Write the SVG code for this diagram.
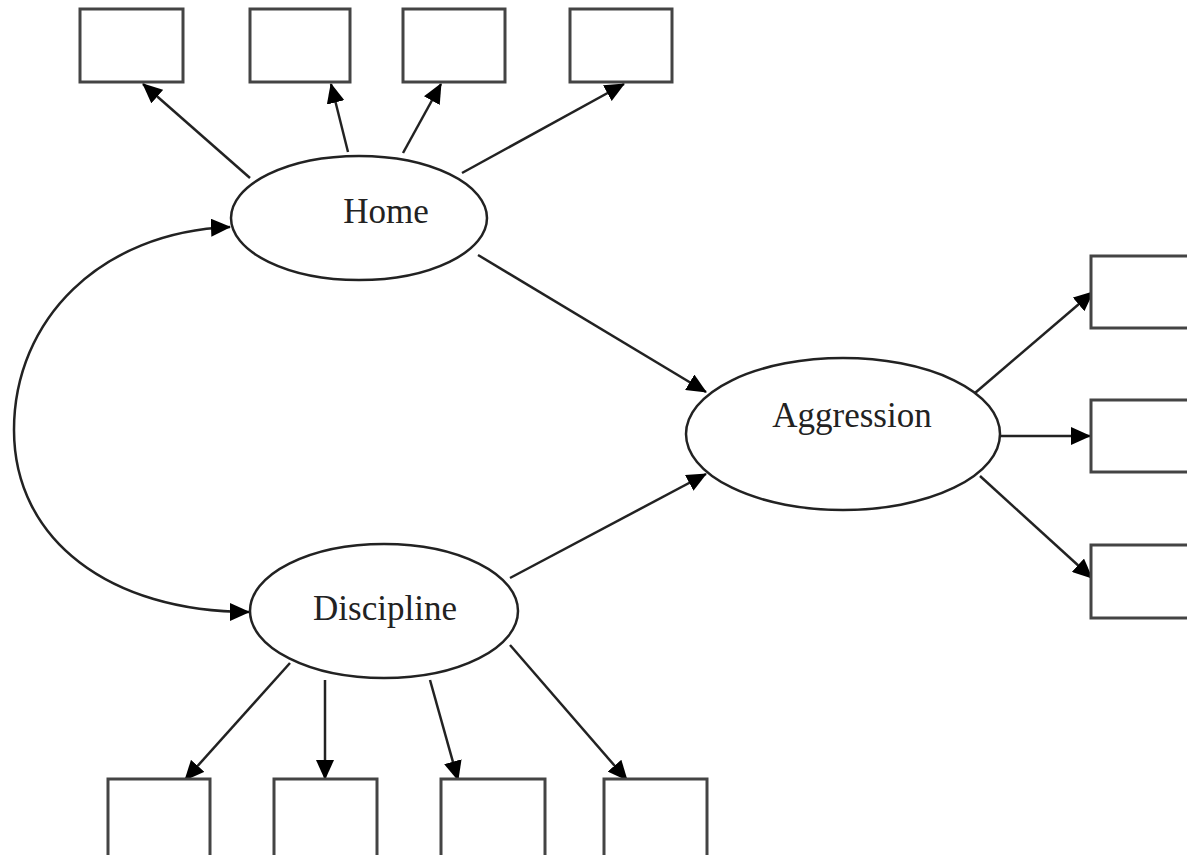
<svg xmlns="http://www.w3.org/2000/svg" width="1187" height="855" viewBox="0 0 1187 855">
<style>
.box{fill:#fff;stroke:#444;stroke-width:3}
.lat{fill:#fff;stroke:#222;stroke-width:2.5}
.lbl{font-family:"Liberation Serif","Times New Roman",serif;font-size:35px;fill:#222;text-anchor:middle}
.edge{fill:none;stroke:#222;stroke-width:2.5;marker-end:url(#ah)}
</style>
<defs>
<marker id="ah" markerUnits="userSpaceOnUse" markerWidth="20" markerHeight="18" refX="19" refY="9" orient="auto-start-reverse">
<path d="M0,0 L20,9 L0,18 Z" fill="#000"/>
</marker>
</defs>
<rect width="1187" height="855" fill="#fff"/>
<g id="connectors">
<line class="edge" x1="250" y1="178" x2="143" y2="84"/>
<line class="edge" x1="348" y1="152" x2="331" y2="84"/>
<line class="edge" x1="403" y1="153" x2="441" y2="84"/>
<line class="edge" x1="462" y1="173" x2="624" y2="84"/>
<line class="edge" x1="478" y1="255" x2="706" y2="392"/>
<line class="edge" x1="510" y1="578" x2="706" y2="474"/>
<line class="edge" x1="975" y1="393" x2="1093" y2="292"/>
<line class="edge" x1="1000" y1="436" x2="1090" y2="436"/>
<line class="edge" x1="980" y1="476" x2="1092" y2="578"/>
<line class="edge" x1="290" y1="663" x2="185" y2="780"/>
<line class="edge" x1="325" y1="680" x2="325" y2="779"/>
<line class="edge" x1="430" y1="680" x2="458" y2="780"/>
<line class="edge" x1="510" y1="645" x2="627" y2="780"/>
<path class="edge" style="marker-start:url(#ah)" d="M230,227 C100,232 14,320 14,430 C14,540 110,612 249,612"/>
</g>
<g id="home"><ellipse class="lat" cx="359" cy="218" rx="128" ry="62"/><text class="lbl" x="386" y="223">Home</text></g>
<g id="aggression"><ellipse class="lat" cx="843" cy="434" rx="157" ry="76"/><text class="lbl" x="852" y="427">Aggression</text></g>
<g id="discipline"><ellipse class="lat" cx="384" cy="611" rx="134" ry="67"/><text class="lbl" x="385" y="620">Discipline</text></g>
<g id="h1"><rect class="box" x="80" y="9" width="103" height="73"/></g>
<g id="h2"><rect class="box" x="250" y="9" width="100" height="73"/></g>
<g id="h3"><rect class="box" x="403" y="9" width="102" height="73"/></g>
<g id="h4"><rect class="box" x="570" y="9" width="102" height="73"/></g>
<g id="a1"><rect class="box" x="1091" y="256" width="110" height="72"/></g>
<g id="a2"><rect class="box" x="1091" y="400" width="110" height="72"/></g>
<g id="a3"><rect class="box" x="1091" y="545" width="110" height="73"/></g>
<g id="d1"><rect class="box" x="108" y="779" width="102" height="80"/></g>
<g id="d2"><rect class="box" x="274" y="779" width="103" height="80"/></g>
<g id="d3"><rect class="box" x="441" y="779" width="104" height="80"/></g>
<g id="d4"><rect class="box" x="604" y="779" width="103" height="80"/></g>
</svg>
